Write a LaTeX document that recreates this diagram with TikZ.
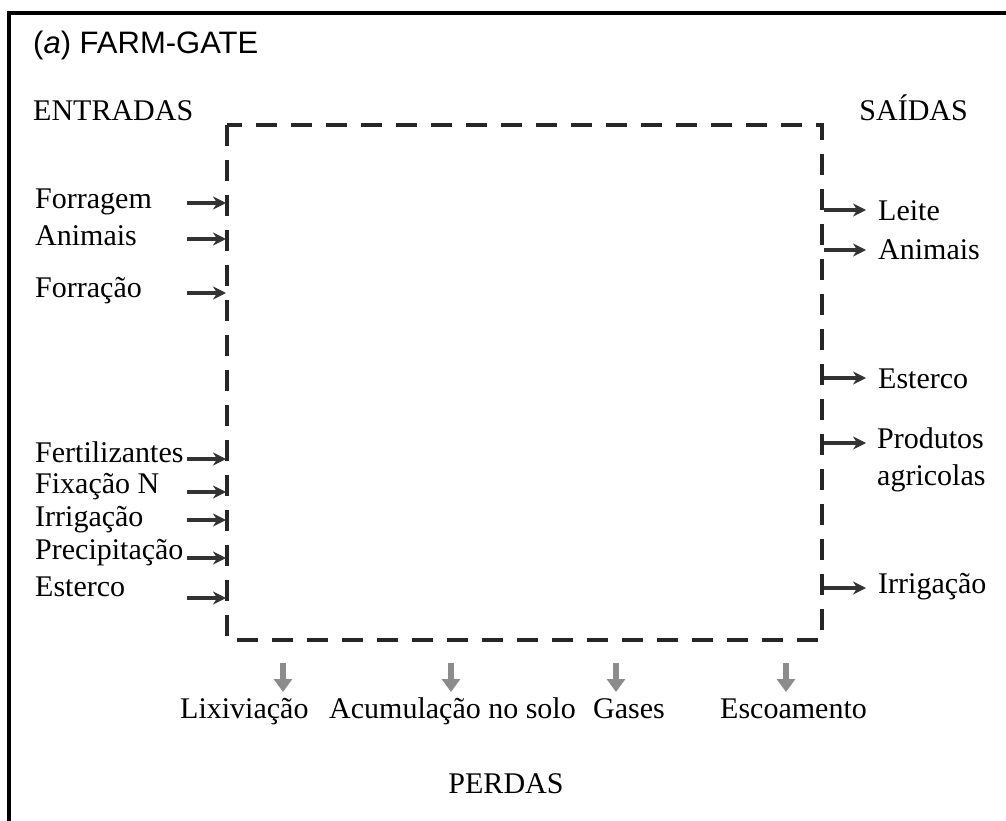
\documentclass[tikz,border=0pt]{standalone}
\usepackage{fontspec}
\setmainfont{Liberation Serif}
\newfontfamily\titlefont{Liberation Sans}
\usetikzlibrary{arrows.meta}

\tikzset{
  lbl/.style={inner sep=0pt, anchor=base west, font=\fontsize{30}{37}\selectfont},
  flowarrow/.style={-{Stealth[length=13pt,width=13pt]}, line width=3.5pt, draw=black!80},
  lossarrow/.style={-{Triangle[length=13pt,width=18pt]}, line width=6pt, draw=black!45},
}

\begin{document}
\begin{tikzpicture}[x=1pt,y=-1pt]
\useasboundingbox (0,0) rectangle (1006,821);
\draw[line width=4.5pt] (9,821) -- (9,13) -- (1006,13);
\draw[line width=3.5pt, dash pattern=on 21pt off 14pt, draw=black!85] (227,125) rectangle (822,640);
\node[lbl, font=\titlefont\fontsize{31}{37}\selectfont] (title) at (33,54) {(\textit{a}) FARM-GATE};
\node[lbl] (entradas) at (33,121) {ENTRADAS};
\node[lbl, anchor=base east] (saidas) at (968,121) {SAÍDAS};
\node[lbl, anchor=base] (perdas) at (506,793) {PERDAS};
\foreach \n/\t/\yb/\ya in {forragem/Forragem/208/203, animais/Animais/245/239,
    forracao/Forração/297/293, fert/Fertilizantes/462/459, fix/Fixação N/493/492,
    irr/Irrigação/526/520, prec/Precipitação/559/558, est/Esterco/596/598} {
  \node[lbl] (in-\n) at (35,\yb) {\t};
  \coordinate (in-\n-a) at (187,\ya);
  \coordinate (in-\n-b) at (226,\ya);
  \draw[flowarrow] (in-\n-a) -- (in-\n-b);
}
\foreach \n/\t/\yb/\ya in {leite/Leite/220/210, animais/Animais/259/250,
    esterco/Esterco/388/378, irr/Irrigação/593/588} {
  \node[lbl] (out-\n) at (878,\yb) {\t};
  \coordinate (out-\n-a) at (824,\ya);
  \coordinate (out-\n-b) at (866,\ya);
  \draw[flowarrow] (out-\n-a) -- (out-\n-b);
}
\node[lbl, anchor=north west, align=left] (out-prod) at (877,427) {Produtos\\agricolas};
\coordinate (out-prod-a) at (824,443);
\coordinate (out-prod-b) at (866,443);
\draw[flowarrow] (out-prod-a) -- (out-prod-b);
\foreach \n/\t/\xl/\xa in {lix/Lixiviação/180/283, acum/Acumulação no solo/329/451,
    gas/Gases/593/616, esc/Escoamento/720/786} {
  \node[lbl] (loss-\n) at (\xl,718) {\t};
  \coordinate (loss-\n-a) at (\xa,663);
  \coordinate (loss-\n-b) at (\xa,692);
  \draw[lossarrow] (loss-\n-a) -- (loss-\n-b);
}
\end{tikzpicture}
\end{document}
